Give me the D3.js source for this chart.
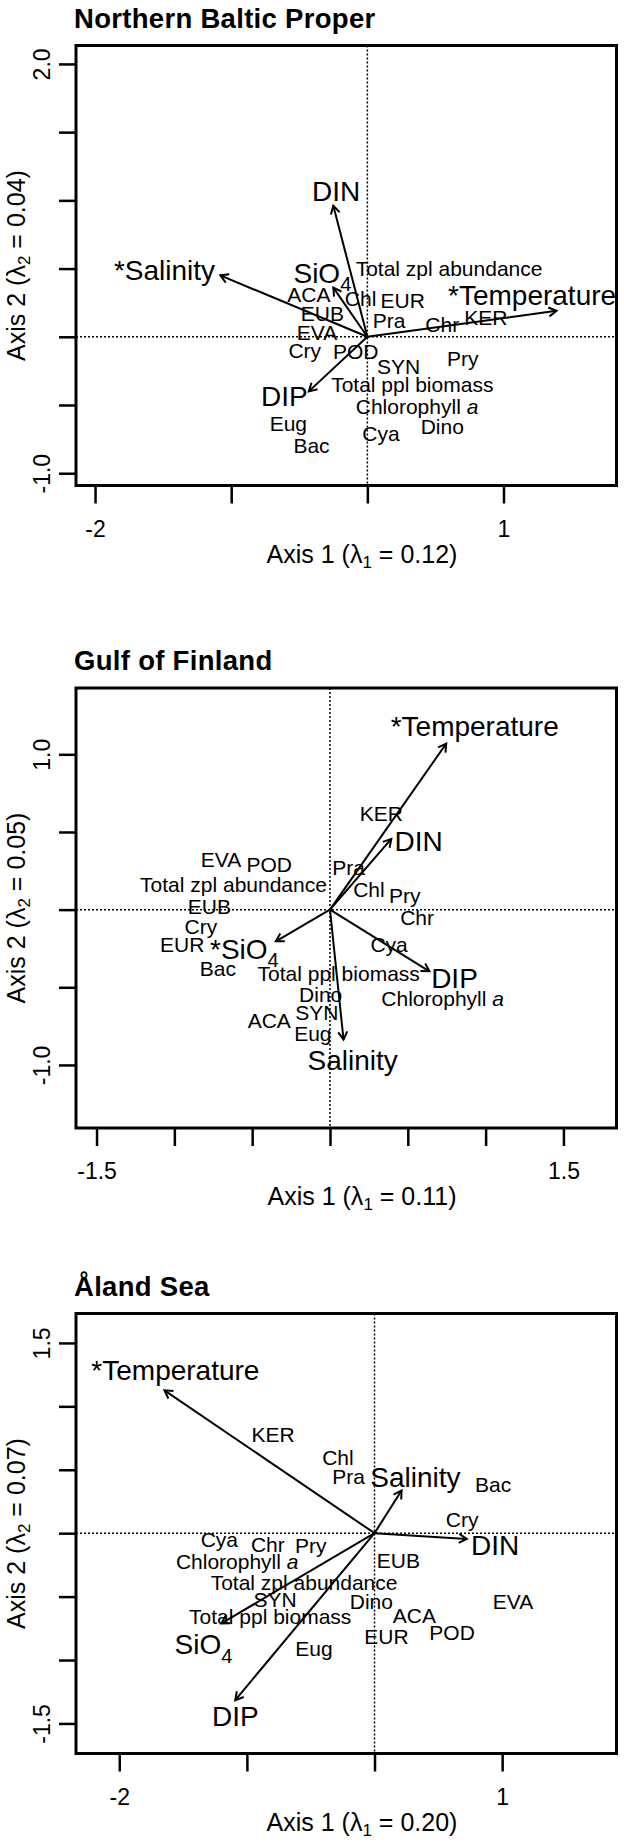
<!DOCTYPE html>
<html>
<head>
<meta charset="utf-8">
<script src="https://cdn.jsdelivr.net/npm/d3@7"></script>
<style>
  body { margin: 0; background: #fff; font-family: "Liberation Sans", Arial, Helvetica, sans-serif; }
  svg { display: block; }
  .frame { fill: none; stroke: #000; stroke-width: 3; }
  .zero { stroke: #000; stroke-width: 1.5; stroke-dasharray: 2 2; }
  .arrow { stroke: #000; stroke-width: 2; fill: none; }
  .axis line { stroke: #000; stroke-width: 2.5; }
  .axis path { display: none; }
  .axis text { font-size: 23px; fill: #000; }
  .title { font-size: 27.5px; font-weight: bold; letter-spacing: 0.3px; }
  .axtitle { font-size: 25px; }
  .env { font-size: 28px; }
  .taxon { font-size: 21px; }
</style>
</head>
<body>
<script>
// ---------- Northern Baltic Proper
var nbpTitle = "Northern Baltic Proper";
var nbpLambda = ["0.12", "0.04"];
var nbpXlim = [-2.14, 1.83], nbpYlim = [-1.09, 2.135];
var nbpXticks = [-2, -1, 0, 1], nbpXtickLabels = ["-2", "", "", "1"];
var nbpYticks = [-1, -0.5, 0, 0.5, 1, 1.5, 2], nbpYtickLabels = ["-1.0", "", "", "", "", "", "2.0"];
var nbpVars = ["*Salinity", "SiO4", "DIN", "*Temperature", "DIP"];
var nbpVarTip = [[-1.08, 0.45], [-0.25, 0.36], [-0.25, 0.96], [1.39, 0.19], [-0.43, -0.40]];
var nbpVarLab = [[-1.49, 0.49], [-0.33, 0.47], [-0.23, 1.07], [1.21, 0.31], [-0.61, -0.43]];
var nbpTaxa = ["Total zpl abundance", "ACA", "Chl", "EUR", "EUB", "Pra", "EVA", "Chr", "KER", "Cry", "POD",
               "SYN", "Pry", "Total ppl biomass", "Chlorophyll a", "Eug", "Dino", "Cya", "Bac"];
var nbpTaxaXY = [[0.60, 0.50], [-0.43, 0.31], [-0.05, 0.28], [0.26, 0.27], [-0.33, 0.17], [0.16, 0.12],
                 [-0.37, 0.03], [0.55, 0.09], [0.87, 0.14], [-0.46, -0.10], [-0.085, -0.11], [0.23, -0.22],
                 [0.70, -0.16], [0.33, -0.35], [0.365, -0.51], [-0.58, -0.635], [0.55, -0.66], [0.10, -0.71],
                 [-0.41, -0.80]];

// ---------- Gulf of Finland
var gofTitle = "Gulf of Finland";
var gofLambda = ["0.11", "0.05"];
var gofXlim = [-1.632, 1.841], gofYlim = [-1.406, 1.427];
var gofXticks = [-1.5, -1, -0.5, 0, 0.5, 1, 1.5], gofXtickLabels = ["-1.5", "", "", "", "", "", "1.5"];
var gofYticks = [-1, -0.5, 0, 0.5, 1], gofYtickLabels = ["-1.0", "", "", "", "1.0"];
var gofVars = ["*Temperature", "DIN", "*SiO4", "DIP", "Salinity"];
var gofVarTip = [[0.747, 1.069], [0.394, 0.455], [-0.348, -0.204], [0.639, -0.397], [0.087, -0.837]];
var gofVarLab = [[0.93, 1.18], [0.57, 0.44], [-0.55, -0.25], [0.80, -0.44], [0.146, -0.966]];
var gofTaxa = ["KER", "EVA", "POD", "Pra", "Total zpl abundance", "Chl", "Pry", "EUB", "Chr", "Cry", "EUR",
               "Cya", "Bac", "Total ppl biomass", "Chlorophyll a", "Dino", "SYN", "ACA", "Eug"];
var gofTaxaXY = [[0.33, 0.62], [-0.70, 0.32], [-0.39, 0.29], [0.12, 0.27], [-0.62, 0.16], [0.25, 0.13],
                 [0.48, 0.09], [-0.775, 0.02], [0.56, -0.05], [-0.83, -0.11], [-0.95, -0.225], [0.38, -0.225],
                 [-0.72, -0.376], [0.056, -0.408], [0.724, -0.575], [-0.06, -0.547], [-0.084, -0.665],
                 [-0.39, -0.715], [-0.11, -0.794]];

// ---------- Åland Sea
var alsTitle = "Åland Sea";
var alsLambda = ["0.20", "0.07"];
var alsXlim = [-2.339, 1.896], alsYlim = [-1.737, 1.732];
var alsXticks = [-2, -1, 0, 1], alsXtickLabels = ["-2", "", "", "1"];
var alsYticks = [-1.5, -1, -0.5, 0, 0.5, 1, 1.5], alsYtickLabels = ["-1.5", "", "", "", "", "", "1.5"];
var alsVars = ["*Temperature", "Salinity", "DIN", "SiO4", "DIP"];
var alsVarTip = [[-1.646, 1.126], [0.212, 0.337], [0.723, -0.045], [-1.20, -0.711], [-1.091, -1.316]];
var alsVarLab = [[-1.56, 1.284], [0.32, 0.442], [0.945, -0.089], [-1.34, -0.874], [-1.09, -1.439]];
var alsTaxa = ["KER", "Chl", "Pra", "Bac", "Cry", "Cya", "Chr", "Pry", "Chlorophyll a", "EUB",
               "Total zpl abundance", "SYN", "Dino", "EVA", "Total ppl biomass", "ACA", "POD", "EUR", "Eug"];
var alsTaxaXY = [[-0.795, 0.78], [-0.287, 0.60], [-0.203, 0.447], [0.93, 0.382], [0.686, 0.105],
                 [-1.216, -0.053], [-0.836, -0.089], [-0.50, -0.097], [-1.076, -0.224], [0.187, -0.216],
                 [-0.552, -0.392], [-0.78, -0.526], [-0.025, -0.537], [1.085, -0.537], [-0.817, -0.658],
                 [0.312, -0.645], [0.608, -0.782], [0.094, -0.816], [-0.474, -0.905]];

var W = 624, H = 1842;
var frameL = 76, frameR = 616.5, frameH = 440;

var svg = d3.select("body").append("svg").attr("width", W).attr("height", H);

// text with subscripts / italic pieces
function fillLabel(text, name) {
    if (name.slice(-4) === "SiO4") {
        text.append("tspan").text(name.slice(0, -1));
        text.append("tspan").attr("font-size", "0.72em").attr("dy", "0.42em").text("4");
    } else if (name.slice(-2) === " a") {
        text.append("tspan").text(name.slice(0, -1));
        text.append("tspan").attr("font-style", "italic").text("a");
    } else {
        text.text(name);
    }
}

function axisTitle(text, num, lambda) {
    text.append("tspan").text("Axis " + num + " (\u03bb");
    text.append("tspan").attr("font-size", "17px").attr("dy", 5).text(num);
    text.append("tspan").attr("dy", -5).text(" = " + lambda + ")");
}

function drawPanel(id, top, title, lambda, xlim, ylim, xticks, xtl, yticks, ytl,
                   vars, varTip, varLab, taxa, taxaXY) {
    var x = d3.scaleLinear().domain(xlim).range([frameL, frameR]);
    var y = d3.scaleLinear().domain(ylim).range([top + frameH, top]);
    var g = svg.append("g");

    g.append("text").attr("class", "title")
        .attr("x", 74).attr("y", top - 18)
        .text(title);

    g.append("clipPath").attr("id", "clip" + id)
        .append("rect").attr("x", frameL).attr("y", top)
        .attr("width", frameR - frameL).attr("height", frameH);

    var plot = g.append("g").attr("clip-path", "url(#clip" + id + ")");

    // dotted zero lines
    plot.append("line").attr("class", "zero")
        .attr("x1", x(0)).attr("x2", x(0)).attr("y1", y(ylim[1])).attr("y2", y(ylim[0]));
    plot.append("line").attr("class", "zero")
        .attr("x1", x(xlim[0])).attr("x2", x(xlim[1])).attr("y1", y(0)).attr("y2", y(0));

    // arrows for the environmental variables
    var head = 9, ang = Math.PI / 6;
    vars.forEach(function(v, i) {
        var x0 = x(0), y0 = y(0), x1 = x(varTip[i][0]), y1 = y(varTip[i][1]);
        var a = Math.atan2(y1 - y0, x1 - x0);
        plot.append("line").attr("class", "arrow")
            .attr("x1", x0).attr("y1", y0).attr("x2", x1).attr("y2", y1);
        plot.append("path").attr("class", "arrow")
            .attr("d", "M" + (x1 - head * Math.cos(a - ang)) + "," + (y1 - head * Math.sin(a - ang)) +
                       "L" + x1 + "," + y1 +
                       "L" + (x1 - head * Math.cos(a + ang)) + "," + (y1 - head * Math.sin(a + ang)));
    });

    taxa.forEach(function(t, i) {
        var txt = plot.append("text").attr("class", "taxon")
            .attr("x", x(taxaXY[i][0])).attr("y", y(taxaXY[i][1]))
            .attr("dy", "0.36em").attr("text-anchor", "middle");
        fillLabel(txt, t);
    });

    vars.forEach(function(v, i) {
        var txt = plot.append("text").attr("class", "env")
            .attr("x", x(varLab[i][0])).attr("y", y(varLab[i][1]))
            .attr("dy", "0.36em").attr("text-anchor", "middle");
        fillLabel(txt, v);
    });

    g.append("rect").attr("class", "frame")
        .attr("x", frameL).attr("y", top)
        .attr("width", frameR - frameL).attr("height", frameH);

    // x axis
    g.append("g").attr("class", "axis")
        .attr("transform", "translate(0," + (top + frameH) + ")")
        .call(d3.axisBottom(x).tickValues(xticks).tickSize(18).tickPadding(17)
              .tickFormat(function(d, i) { return xtl[i]; }));

    // y axis, labels turned like R's
    var ya = g.append("g").attr("class", "axis")
        .attr("transform", "translate(" + frameL + ",0)")
        .call(d3.axisLeft(y).tickValues(yticks).tickSize(17)
              .tickFormat(function(d, i) { return ytl[i]; }));
    ya.selectAll("text")
        .attr("x", null).attr("dy", "0.36em")
        .attr("text-anchor", "middle")
        .attr("transform", "translate(-34,0) rotate(-90)");

    var xt = g.append("text").attr("class", "axtitle")
        .attr("x", 362).attr("y", top + frameH + 68).attr("dy", "0.36em")
        .attr("text-anchor", "middle");
    axisTitle(xt, "1", lambda[0]);

    var yt = g.append("text").attr("class", "axtitle")
        .attr("text-anchor", "middle").attr("dy", "0.36em")
        .attr("transform", "translate(16," + (top + frameH / 2) + ") rotate(-90)");
    axisTitle(yt, "2", lambda[1]);
}

drawPanel("a", 45.5, nbpTitle, nbpLambda, nbpXlim, nbpYlim, nbpXticks, nbpXtickLabels, nbpYticks, nbpYtickLabels,
          nbpVars, nbpVarTip, nbpVarLab, nbpTaxa, nbpTaxaXY);
drawPanel("b", 688, gofTitle, gofLambda, gofXlim, gofYlim, gofXticks, gofXtickLabels, gofYticks, gofYtickLabels,
          gofVars, gofVarTip, gofVarLab, gofTaxa, gofTaxaXY);
drawPanel("c", 1313.5, alsTitle, alsLambda, alsXlim, alsYlim, alsXticks, alsXtickLabels, alsYticks, alsYtickLabels,
          alsVars, alsVarTip, alsVarLab, alsTaxa, alsTaxaXY);
</script>
</body>
</html>
